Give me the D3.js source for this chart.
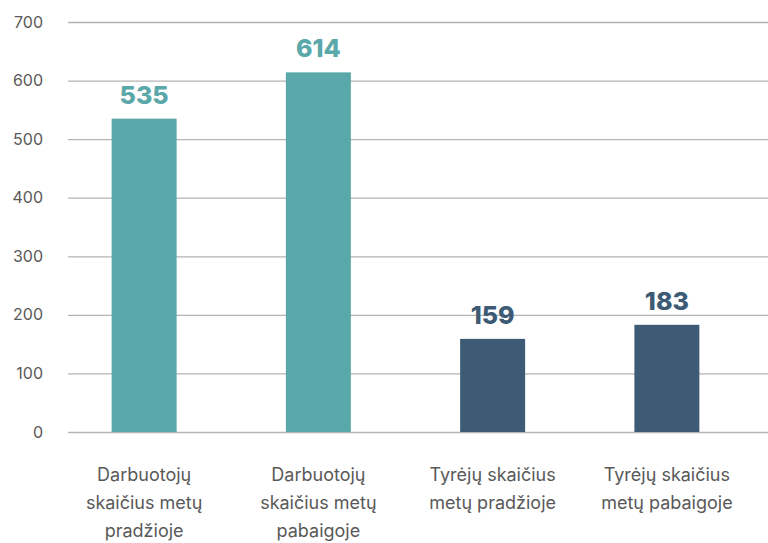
<!DOCTYPE html>
<html>
<head>
<meta charset="utf-8">
<script src="https://cdn.jsdelivr.net/npm/d3@7"></script>
<style>
  body { margin: 0; background: #fff; }
  text { font-family: Inter, "Open Sans", sans-serif; }
</style>
</head>
<body>
<div id="chart"></div>
<script>
var categories = [
  "Darbuotojų skaičius metų pradžioje",
  "Darbuotojų skaičius metų pabaigoje",
  "Tyrėjų skaičius metų pradžioje",
  "Tyrėjų skaičius metų pabaigoje"
];
var values = [535, 614, 159, 183];
var colors = ["#5aa8a9", "#5aa8a9", "#3d5b74", "#3d5b74"];
var yTicks = [0, 100, 200, 300, 400, 500, 600, 700];

var margin = { top: 22, right: 0, bottom: 111, left: 68 },
    width = 768 - margin.left - margin.right,
    height = 543 - margin.top - margin.bottom;

var svg = d3.select("#chart")
  .append("svg")
  .attr("width", 768)
  .attr("height", 543)
  .append("g")
  .attr("transform", "translate(" + margin.left + "," + margin.top + ")");

var x = d3.scaleBand().domain(categories).range([-11, 686]).paddingInner(0.627).paddingOuter(0.3135);
var y = d3.scaleLinear().domain([0, 700]).range([height, 0]);

// gridlines + tick labels
var yAxis = d3.axisLeft(y).tickValues(yTicks).tickSize(-width).tickPadding(25);
var gy = svg.append("g").attr("class", "y-axis").call(yAxis);
gy.select(".domain").remove();
gy.selectAll(".tick line").attr("stroke", "#b3b3b3").attr("stroke-width", 1.3);
gy.selectAll(".tick text").attr("fill", "#595959").style("font-size", "16px");

svg.selectAll(".bar")
  .data(values)
  .enter()
  .append("rect")
  .attr("class", "bar")
  .attr("x", function (d, i) { return x(categories[i]); })
  .attr("y", function (d) { return y(d); })
  .attr("width", x.bandwidth())
  .attr("height", function (d) { return height - y(d); })
  .attr("fill", function (d, i) { return colors[i]; });

svg.selectAll(".val")
  .data(values)
  .enter()
  .append("text")
  .attr("class", "val")
  .attr("x", function (d, i) { return x(categories[i]) + x.bandwidth() / 2; })
  .attr("y", function (d) { return y(d) - 15; })
  .attr("text-anchor", "middle")
  .attr("fill", function (d, i) { return colors[i]; })
  .style("font-size", "25px")
  .style("font-weight", "800")
  .text(function (d) { return d; });

// category labels, wrapped
var xAxis = d3.axisBottom(x).tickSize(0).tickPadding(36);
var gx = svg.append("g").attr("class", "x-axis").attr("transform", "translate(0," + height + ")").call(xAxis);
gx.select(".domain").remove();
gx.selectAll(".tick text")
  .attr("fill", "#595959")
  .style("font-size", "18px")
  .call(wrap, 150);

function wrap(sel, w) {
  sel.each(function () {
    var t = d3.select(this), words = t.text().split(/\s+/), line = [], n = 0;
    var y0 = t.attr("y");
    var tspan = t.text(null).append("tspan").attr("x", 0).attr("y", y0).attr("dy", "0.71em");
    words.forEach(function (word) {
      line.push(word);
      tspan.text(line.join(" "));
      if (tspan.node().getComputedTextLength() > w && line.length > 1) {
        line.pop();
        tspan.text(line.join(" "));
        line = [word];
        n++;
        tspan = t.append("tspan").attr("x", 0).attr("y", y0).attr("dy", (0.71 + n * 1.55) + "em").text(word);
      }
    });
  });
}
</script>
</body>
</html>
